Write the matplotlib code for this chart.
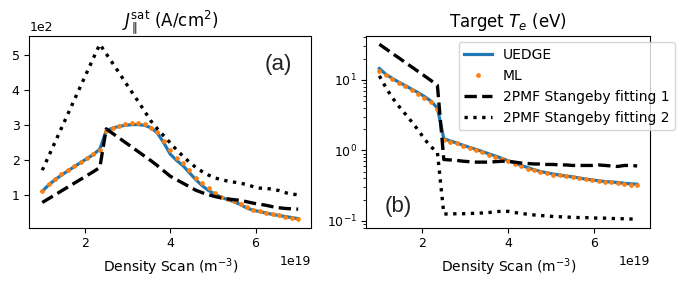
import matplotlib

matplotlib.use("Agg")
import matplotlib.pyplot as plt
from matplotlib.ticker import MultipleLocator

# density scan, units of 1e19 m^-3
DENSITY = [1.00, 1.15, 1.30, 1.45, 1.60, 1.75, 1.90, 2.05, 2.20, 2.35,
           2.50, 2.65, 2.80, 2.95, 3.10, 3.25, 3.40, 3.55, 3.70, 3.85,
           4.00, 4.15, 4.30, 4.45, 4.60, 4.75, 4.90, 5.05, 5.20, 5.35,
           5.50, 5.65, 5.80, 5.95, 6.10, 6.25, 6.40, 6.55, 6.70, 6.85, 7.00]

# J_sat, units of 1e2 A/cm^2
JSAT_UEDGE = [1.12, 1.30, 1.45, 1.58, 1.70, 1.82, 1.94, 2.05, 2.17, 2.32,
              2.85, 2.92, 2.97, 3.00, 3.02, 3.02, 3.00, 2.93, 2.78, 2.50,
              2.18, 2.00, 1.85, 1.65, 1.45, 1.28, 1.14, 1.04, 0.95, 0.88,
              0.82, 0.74, 0.64, 0.58, 0.54, 0.50, 0.46, 0.43, 0.40, 0.37, 0.34]
JSAT_ML = [1.12, 1.32, 1.46, 1.60, 1.72, 1.84, 1.95, 2.06, 2.18, 2.30,
           2.84, 2.92, 2.98, 3.03, 3.06, 3.08, 3.04, 2.92, 2.80, 2.55,
           2.30, 2.08, 1.92, 1.72, 1.50, 1.35, 1.20, 1.06, 0.97, 0.90,
           0.84, 0.76, 0.67, 0.60, 0.55, 0.51, 0.47, 0.43, 0.40, 0.36, 0.33]
JSAT_FIT1 = [0.80, 0.91, 1.02, 1.13, 1.24, 1.35, 1.46, 1.57, 1.68, 1.80,
             2.90, 2.77, 2.64, 2.51, 2.38, 2.25, 2.12, 1.99, 1.85, 1.70,
             1.55, 1.45, 1.35, 1.25, 1.15, 1.08, 1.02, 0.97, 0.93, 0.90,
             0.88, 0.86, 0.82, 0.78, 0.75, 0.72, 0.68, 0.65, 0.63, 0.62, 0.61]
JSAT_FIT2 = [1.72, 2.12, 2.52, 2.92, 3.32, 3.72, 4.12, 4.52, 4.92, 5.31,
             5.04, 4.77, 4.50, 4.22, 3.95, 3.68, 3.40, 3.12, 2.90, 2.70,
             2.50, 2.30, 2.12, 1.95, 1.80, 1.68, 1.58, 1.50, 1.45, 1.41,
             1.38, 1.35, 1.31, 1.25, 1.21, 1.20, 1.18, 1.14, 1.08, 1.04, 1.02]

# target Te, eV
TE_UEDGE = [14.5, 12.0, 10.5, 9.3, 8.3, 7.4, 6.6, 5.8, 5.0, 4.0,
            1.46, 1.36, 1.27, 1.18, 1.10, 1.03, 0.96, 0.89, 0.83, 0.77,
            0.71, 0.66, 0.61, 0.57, 0.53, 0.50, 0.48, 0.46, 0.445, 0.43,
            0.42, 0.405, 0.39, 0.38, 0.37, 0.36, 0.355, 0.35, 0.34, 0.335, 0.33]
TE_ML = [13.5, 11.6, 10.2, 9.1, 8.1, 7.2, 6.4, 5.6, 4.8, 3.9,
         1.40, 1.33, 1.25, 1.16, 1.08, 1.01, 0.94, 0.87, 0.81, 0.76,
         0.70, 0.64, 0.59, 0.55, 0.52, 0.49, 0.47, 0.45, 0.44, 0.43,
         0.415, 0.40, 0.39, 0.375, 0.365, 0.36, 0.35, 0.345, 0.335, 0.325, 0.32]
TE_FIT1 = [32.0, 27.6, 23.8, 20.6, 17.7, 15.3, 13.2, 11.4, 9.8, 8.4,
           0.74, 0.73, 0.72, 0.70, 0.69, 0.68, 0.68, 0.68, 0.69, 0.70,
           0.70, 0.68, 0.66, 0.65, 0.64, 0.64, 0.63, 0.63, 0.62, 0.62,
           0.61, 0.61, 0.61, 0.61, 0.62, 0.61, 0.60, 0.59, 0.61, 0.61, 0.60]
TE_FIT2 = [11.4, 7.8, 5.6, 4.25, 3.3, 2.55, 1.95, 1.45, 1.12, 0.95,
           0.125, 0.125, 0.126, 0.126, 0.127, 0.128, 0.129, 0.131, 0.134, 0.137,
           0.136, 0.131, 0.127, 0.124, 0.121, 0.119, 0.117, 0.115, 0.114, 0.113,
           0.112, 0.111, 0.111, 0.110, 0.109, 0.109, 0.108, 0.107, 0.107, 0.106, 0.106]

LABELS = ["UEDGE", "ML", "2PMF Stangeby fitting 1", "2PMF Stangeby fitting 2"]

plt.rcParams["font.size"] = 9


def draw(ax, uedge, ml, fit1, fit2, scale):
    x = [d * 1e19 for d in DENSITY]
    ax.plot(x, [v * scale for v in uedge], color="#1f77b4", lw=2.3, label=LABELS[0])
    ax.plot(x, [v * scale for v in ml], "o", color="#ff7f0e", ms=2.4, label=LABELS[1])
    ax.plot(x, [v * scale for v in fit1], "--", color="black", lw=2.4, label=LABELS[2])
    ax.plot(x, [v * scale for v in fit2], ":", color="black", lw=2.4, label=LABELS[3])
    ax.xaxis.set_major_locator(MultipleLocator(2e19))
    ax.set_xlabel("Density Scan (m$^{-3}$)", fontsize=10)


fig = plt.figure(figsize=(6.85, 2.89), dpi=100)
ax_j = fig.add_axes([0.043, 0.212, 0.411, 0.665])
ax_t = fig.add_axes([0.535, 0.212, 0.414, 0.665])

draw(ax_j, JSAT_UEDGE, JSAT_ML, JSAT_FIT1, JSAT_FIT2, 100.0)
ax_j.ticklabel_format(axis="y", style="sci", scilimits=(0, 0))
ax_j.set_title(r"$J_{\parallel}^{\mathrm{sat}}$ (A/cm$^2$)", fontsize=12)
ax_j.text(0.883, 0.85, "(a)", transform=ax_j.transAxes, ha="center", va="center",
          fontsize=16, family="Liberation Sans", color="#222222")

draw(ax_t, TE_UEDGE, TE_ML, TE_FIT1, TE_FIT2, 1.0)
ax_t.set_yscale("log")
ax_t.set_title(r"Target $T_e$ (eV)", fontsize=12)
ax_t.text(0.111, 0.11, "(b)", transform=ax_t.transAxes, ha="center", va="center",
          fontsize=16, family="Liberation Sans", color="#222222")
ax_t.legend(loc="upper right", bbox_to_anchor=(1.113, 1.0), fontsize=10,
            handlelength=2.0)

fig.savefig("out.png", dpi=100)
